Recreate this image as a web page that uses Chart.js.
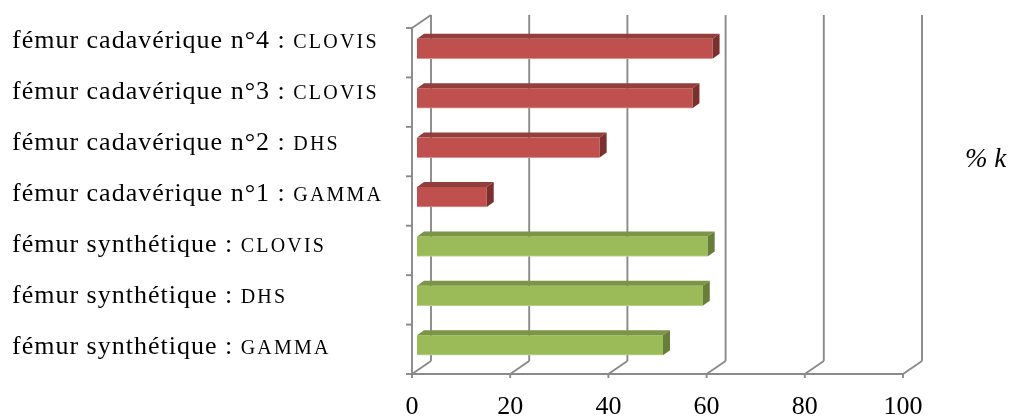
<!DOCTYPE html>
<html>
<head>
<meta charset="utf-8">
<script src="https://cdn.jsdelivr.net/npm/chart.js@4/dist/chart.umd.min.js"></script>
<style>
  html, body { margin: 0; padding: 0; background: #fff; }
</style>
</head>
<body>
<canvas id="myChart" width="1013" height="416"></canvas>
<script>
// data (top to bottom)
var labels = ['fémur cadavérique n°4 : ', 'fémur cadavérique n°3 : ', 'fémur cadavérique n°2 : ',
              'fémur cadavérique n°1 : ', 'fémur synthétique : ', 'fémur synthétique : ', 'fémur synthétique : '];
var implants = ['CLOVIS', 'CLOVIS', 'DHS', 'GAMMA', 'CLOVIS', 'DHS', 'GAMMA'];
var values = [60.2, 56.1, 37.2, 14.2, 59.2, 58.2, 50.1];
var groups = ['cad', 'cad', 'cad', 'cad', 'syn', 'syn', 'syn'];
var xTicks = [0, 20, 40, 60, 80, 100];
var axisTitle = '% k';

var faces = {
  cad: { front: '#C0504D', top: '#933E3B', side: '#7C302E', edge: '#D99290' },
  syn: { front: '#9BBB59', top: '#7A9545', side: '#667E38', edge: '#C3D69B' }
};
var wall = { dx: 19, dy: -13 };      // depth of the back wall
var barShift = { dx: 5, dy: -4 };    // bars sit a bit into the depth
var barDepth = { dx: 7, dy: -5 };
var gridColor = '#8a8a8a';
var serif = '"Liberation Serif", "Times New Roman", serif';

var fullLabels = labels.map(function (l, i) { return l + implants[i]; });

function line(ctx, x1, y1, x2, y2) {
  ctx.beginPath();
  ctx.moveTo(x1, y1);
  ctx.lineTo(x2, y2);
  ctx.stroke();
}

var frame3d = {
  id: 'frame3d',
  beforeDatasetsDraw: function (chart) {
    var ctx = chart.ctx, xs = chart.scales.x;
    var top = chart.chartArea.top, bottom = chart.chartArea.bottom;
    var x0 = xs.getPixelForValue(xTicks[0]);
    var x1 = xs.getPixelForValue(xTicks[xTicks.length - 1]);
    ctx.save();
    ctx.strokeStyle = gridColor;
    ctx.lineWidth = 1.9;
    // back wall verticals + floor slants + ticks
    xTicks.forEach(function (v) {
      var px = xs.getPixelForValue(v);
      line(ctx, px + wall.dx, top + wall.dy, px + wall.dx, bottom + wall.dy);
      line(ctx, px, bottom, px + wall.dx, bottom + wall.dy);
      line(ctx, px, bottom, px, bottom + 4);
    });
    // front axes
    line(ctx, x0, bottom, x1, bottom);
    line(ctx, x0, top, x0, bottom);
    line(ctx, x0, top, x0 + wall.dx, top + wall.dy);
    // category ticks on the left wall
    var band = (bottom - top) / labels.length;
    for (var i = 0; i <= labels.length; i++) {
      line(ctx, x0 - 6, top + i * band, x0, top + i * band);
    }
    ctx.restore();
    ctx.save();
    ctx.translate(barShift.dx, barShift.dy);
  },
  afterDatasetsDraw: function (chart) {
    var ctx = chart.ctx;
    var meta = chart.getDatasetMeta(0);
    meta.data.forEach(function (bar, i) {
      var p = bar.getProps(['x', 'y', 'base', 'height'], true);
      var f = faces[groups[i]];
      var yt = p.y - p.height / 2, yb = p.y + p.height / 2;
      ctx.fillStyle = f.top;
      ctx.beginPath();
      ctx.moveTo(p.base, yt);
      ctx.lineTo(p.x, yt);
      ctx.lineTo(p.x + barDepth.dx, yt + barDepth.dy);
      ctx.lineTo(p.base + barDepth.dx, yt + barDepth.dy);
      ctx.closePath();
      ctx.fill();
      ctx.fillStyle = f.side;
      ctx.beginPath();
      ctx.moveTo(p.x, yt);
      ctx.lineTo(p.x + barDepth.dx, yt + barDepth.dy);
      ctx.lineTo(p.x + barDepth.dx, yb + barDepth.dy);
      ctx.lineTo(p.x, yb);
      ctx.closePath();
      ctx.fill();
    });
    ctx.restore();
  },
  afterDraw: function (chart) {
    var ctx = chart.ctx, ys = chart.scales.y;
    ctx.save();
    ctx.fillStyle = '#000';
    ctx.textAlign = 'left';
    ctx.textBaseline = 'alphabetic';
    labels.forEach(function (l, i) {
      // labels run on a slightly wider pitch than the bands
      var baseY = ys.getPixelForValue(i) - 5 + 1.6 * i;
      ctx.font = '26px ' + serif;
      ctx.letterSpacing = '1px';
      ctx.fillText(l, 12, baseY);
      var w = ctx.measureText(l).width;
      ctx.font = '20px ' + serif;
      ctx.letterSpacing = '2.2px';
      ctx.fillText(implants[i], 12 + w, baseY);
    });
    ctx.letterSpacing = '0px';
    ctx.font = 'italic 27px ' + serif;
    ctx.fillText(axisTitle, 965, 167);
    ctx.restore();
  }
};

var ctx = document.getElementById('myChart');
new Chart(ctx, {
  type: 'bar',
  data: {
    labels: fullLabels,
    datasets: [{
      data: values,
      backgroundColor: groups.map(function (g) { return faces[g].front; }),
      borderColor: groups.map(function (g) { return faces[g].edge; }),
      borderWidth: { top: 0, right: 0, left: 0, bottom: 1 },
      borderSkipped: false,
      barThickness: 20
    }]
  },
  options: {
    indexAxis: 'y',
    responsive: false,
    animation: false,
    devicePixelRatio: 1,
    layout: { padding: { left: 412, right: 110, top: 28, bottom: 0 } },
    plugins: { legend: { display: false }, tooltip: { enabled: false } },
    scales: {
      x: {
        min: 0,
        max: 100,
        afterBuildTicks: function (s) { s.ticks = xTicks.map(function (v) { return { value: v }; }); },
        afterFit: function (s) { s.height = 42; },
        grid: { display: false },
        border: { display: false },
        ticks: { color: '#000', padding: 12, maxRotation: 0, font: { family: serif, size: 26, lineHeight: 1 } }
      },
      y: { display: false }
    }
  },
  plugins: [frame3d]
});
</script>
</body>
</html>
